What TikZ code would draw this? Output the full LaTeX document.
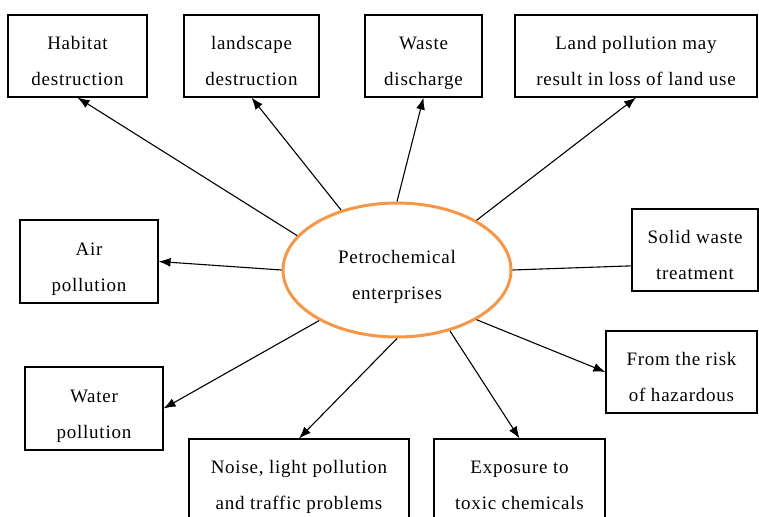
\documentclass[tikz,border=0pt]{standalone}
\usepackage{fontspec}
\setmainfont{Liberation Serif}[LetterSpace=4]
\usetikzlibrary{shapes.geometric,arrows.meta}
\definecolor{petroorange}{RGB}{247,150,70}
\newcommand\boxfont{\fontsize{19}{36}\selectfont}
\begin{document}
\begin{tikzpicture}[x=1pt,y=-1pt,
  box/.style={draw,line width=1.1pt,inner sep=0pt,align=center,font=\boxfont,
    text height=59pt,text depth=0pt,minimum height=82pt},
  arr/.style={-{Latex[length=12pt,width=9pt]},line width=1.1pt}]
\useasboundingbox (0,0) rectangle (759,516);
% centre
\node[draw=petroorange,line width=3pt,ellipse,inner sep=0pt,minimum width=228pt,minimum height=134pt,
  align=center,font=\boxfont,text height=59pt,text depth=0pt] (pe) at (397,270) {Petrochemical\\enterprises};
% top row
\node[box,minimum width=139pt] (habitat) at (77.5,56) {Habitat\\destruction};
\node[box,minimum width=135pt] (landscape) at (251.5,56) {landscape\\destruction};
\node[box,minimum width=117pt] (waste) at (423.5,56) {Waste\\discharge};
\node[box,minimum width=242pt] (landuse) at (636,56) {Land pollution may\\result in loss of land use};
% sides
\node[box,minimum width=138pt,minimum height=83pt] (air) at (89,261.5) {Air\\pollution};
\node[box,minimum width=126pt] (solid) at (695,250) {Solid waste\\treatment};
\node[box,minimum width=151pt] (risk) at (681.5,372) {From the risk\\of hazardous};
\node[box,minimum width=138pt,minimum height=83pt] (water) at (94,408.5) {Water\\pollution};
% bottom row
\node[box,minimum width=220pt] (noise) at (299,480) {Noise, light pollution\\and traffic problems};
\node[box,minimum width=171pt] (toxic) at (519.5,480) {Exposure to\\toxic chemicals};
% connectors
\draw[arr] (pe.161) -- (habitat.south);
\draw[arr] (pe.133) -- (landscape.south);
\draw[arr] (pe.north) -- (waste.south);
\draw[arr] (pe.32) -- (landuse.south);
\draw[arr] (pe.west) -- (air.east);
\draw[line width=1.1pt] (pe.east) -- (solid.194);
\draw[arr] (pe.328) -- (risk.west);
\draw[arr] (pe.213) -- (water.east);
\draw[arr] (pe.south) -- (noise.north);
\draw[arr] (pe.311) -- (toxic.north);
\end{tikzpicture}
\end{document}
